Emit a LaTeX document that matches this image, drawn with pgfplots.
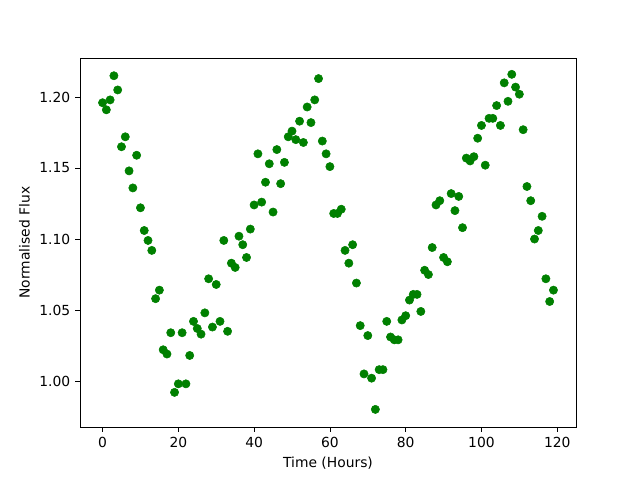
\documentclass[border=0pt]{standalone}
\usepackage{pgfplots}
\pgfplotsset{compat=1.18}
\usepackage{fontspec}
\setmainfont{DejaVu Sans}
\definecolor{mplgreen}{RGB}{0,128,0}
\begin{document}
\fontsize{10.4pt}{12pt}\selectfont
\begin{tikzpicture}
\begin{axis}[
  scale only axis,
  width=372pt, height=276.75pt,
  xmin=-5.95, xmax=124.95,
  ymin=0.9676, ymax=1.2275,
  xtick={0,20,40,60,80,100,120},
  ytick={1.00,1.05,1.10,1.15,1.20},
  /pgf/number format/assume math mode=true,
  yticklabel style={/pgf/number format/.cd,fixed,fixed zerofill,precision=2},
  xticklabel style={/pgf/number format/.cd,fixed},
  tick align=outside,
  major tick length=3.65pt,
  tick style={black, line width=0.6pt},
  axis line style={line width=0.6pt},
  xtick pos=bottom, ytick pos=left,
  xlabel={Time (Hours)},
  ylabel={Normalised Flux},
  tick label style={font=\fontsize{10.4pt}{12pt}\selectfont},
  label style={font=\fontsize{10.4pt}{12pt}\selectfont},
]
\addplot[only marks, mark=*, mark size=3.1pt, mplgreen, mark options={draw=mplgreen, fill=mplgreen}] table {
x y
0 1.196
1 1.191
2 1.198
3 1.215
4 1.205
5 1.165
6 1.172
7 1.148
8 1.136
9 1.159
10 1.122
11 1.106
12 1.099
13 1.092
14 1.058
15 1.064
16 1.022
17 1.019
18 1.034
19 0.992
20 0.998
21 1.034
22 0.998
23 1.018
24 1.042
25 1.037
26 1.033
27 1.048
28 1.072
29 1.038
30 1.068
31 1.042
32 1.099
33 1.035
34 1.083
35 1.080
36 1.102
37 1.096
38 1.087
39 1.107
40 1.124
41 1.160
42 1.126
43 1.140
44 1.153
45 1.119
46 1.163
47 1.139
48 1.154
49 1.172
50 1.176
51 1.170
52 1.183
53 1.168
54 1.193
55 1.182
56 1.198
57 1.213
58 1.169
59 1.160
60 1.151
61 1.118
62 1.118
63 1.121
64 1.092
65 1.083
66 1.096
67 1.069
68 1.039
69 1.005
70 1.032
71 1.002
72 0.980
73 1.008
74 1.008
75 1.042
76 1.031
77 1.029
78 1.029
79 1.043
80 1.046
81 1.057
82 1.061
83 1.061
84 1.049
85 1.078
86 1.075
87 1.094
88 1.124
89 1.127
90 1.087
91 1.084
92 1.132
93 1.120
94 1.130
95 1.108
96 1.157
97 1.155
98 1.158
99 1.171
100 1.180
101 1.152
102 1.185
103 1.185
104 1.194
105 1.180
106 1.210
107 1.197
108 1.216
109 1.207
110 1.202
111 1.177
112 1.137
113 1.127
114 1.100
115 1.106
116 1.116
117 1.072
118 1.056
119 1.064
};
\end{axis}
\path (current axis.south west) ++(-60pt,-39.75pt) coordinate (bl);
\path (current axis.north east) ++(48pt,43.5pt) coordinate (tr);
\useasboundingbox (bl) rectangle (tr);
\end{tikzpicture}
\end{document}
